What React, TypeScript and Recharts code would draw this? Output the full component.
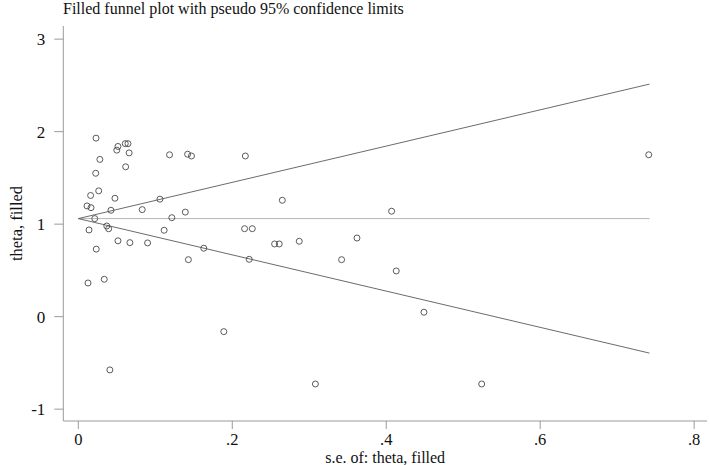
import React from "react";
import { ScatterChart, Scatter, XAxis, YAxis, Label } from "recharts";

// Study-level standard errors and effect estimates
const seValues = [
  0.023, 0.05, 0.0515, 0.061, 0.0645, 0.066, 0.028, 0.0615, 0.0226, 0.1185,
  0.142, 0.147, 0.217, 0.0265, 0.016, 0.0476, 0.106, 0.265, 0.0113, 0.0165,
  0.0424, 0.083, 0.139, 0.407, 0.0213, 0.1215, 0.741, 0.0139, 0.037, 0.0394,
  0.1115, 0.216, 0.226, 0.0515, 0.067, 0.09, 0.255, 0.261, 0.287, 0.362,
  0.0233, 0.163, 0.143, 0.222, 0.342, 0.413, 0.0126, 0.0337, 0.449, 0.189,
  0.041, 0.308, 0.524,
];
const thetaValues = [
  1.93, 1.8, 1.84, 1.87, 1.87, 1.77, 1.7, 1.62, 1.55, 1.75,
  1.756, 1.737, 1.737, 1.36, 1.31, 1.28, 1.27, 1.258, 1.197, 1.178,
  1.15, 1.157, 1.13, 1.14, 1.06, 1.07, 1.75, 0.937, 0.98, 0.95,
  0.934, 0.951, 0.951, 0.82, 0.8, 0.797, 0.786, 0.786, 0.815, 0.85,
  0.73, 0.74, 0.616, 0.62, 0.616, 0.494, 0.364, 0.404, 0.048, -0.162,
  -0.576, -0.728, -0.728,
];

// Pseudo 95% confidence limits and pooled estimate
const limitSe = [0, 0.742];
const upperLimit = [1.06, 2.514];
const lowerLimit = [1.06, -0.394];
const pooledTheta = [1.06, 1.06];

const xTicks = [0, 0.2, 0.4, 0.6, 0.8];
const yTicks = [-1, 0, 1, 2, 3];

const studies = seValues.map((se, i) => ({ se, theta: thetaValues[i] }));
const upperData = limitSe.map((se, i) => ({ se, theta: upperLimit[i] }));
const lowerData = limitSe.map((se, i) => ({ se, theta: lowerLimit[i] }));
const pooledData = limitSe.map((se, i) => ({ se, theta: pooledTheta[i] }));

const FONT = "'Liberation Serif', 'Times New Roman', serif";
const AXIS = "#9a9a9a";
const TEXT = "#111";

const fmtX = (v: number) => (v === 0 ? "0" : String(v).replace(/^0/, ""));

const Hollow = (props: any) => {
  const { cx, cy } = props;
  if (cx == null || cy == null) return <g />;
  return <circle cx={cx} cy={cy} r={3} fill="none" stroke="#4a4a4a" strokeWidth={0.9} />;
};
const NoShape = () => <g />;

export default function App() {
  return (
    <div style={{ position: "absolute", left: 0, top: 0, width: 710, height: 465, background: "#fff" }}>
      <div
        style={{
          position: "absolute",
          left: 63,
          top: 1,
          fontFamily: FONT,
          fontSize: 16,
          lineHeight: 1,
          color: TEXT,
          whiteSpace: "nowrap",
        }}
      >
        Filled funnel plot with pseudo 95% confidence limits
      </div>
      <ScatterChart width={710} height={465} margin={{ top: 26, right: 3, bottom: 0, left: 0 }}>
        <XAxis
          type="number"
          dataKey="se"
          domain={[-0.0195, 0.8167]}
          ticks={xTicks}
          tickFormatter={fmtX}
          allowDataOverflow
          height={44}
          tickSize={8}
          tickMargin={4}
          axisLine={{ stroke: AXIS }}
          tickLine={{ stroke: AXIS }}
          tick={{ fill: TEXT, fontSize: 16.5, fontFamily: FONT }}
        >
          <Label
            value="s.e. of: theta, filled"
            position="insideBottom"
            offset={2}
            style={{ fill: TEXT, fontSize: 16, fontFamily: FONT }}
          />
        </XAxis>
        <YAxis
          type="number"
          dataKey="theta"
          domain={[-1.128, 3.142]}
          ticks={yTicks}
          allowDataOverflow
          width={63.3}
          tickSize={9}
          tickMargin={9}
          axisLine={{ stroke: AXIS }}
          tickLine={{ stroke: AXIS }}
          tick={{ fill: TEXT, fontSize: 17, fontFamily: FONT }}
        >
          <Label
            content={(p: any) => {
              const vb = p.viewBox || { x: 0, y: 26, width: 63, height: 395 };
              const cx = vb.x + 16;
              const cy = vb.y + vb.height / 2;
              return (
                <text
                  x={cx}
                  y={cy}
                  transform={`rotate(-90 ${cx} ${cy})`}
                  textAnchor="middle"
                  dominantBaseline="central"
                  style={{ fill: TEXT, fontSize: 16.5, fontFamily: FONT }}
                >
                  theta, filled
                </text>
              );
            }}
          />
        </YAxis>
        <Scatter
          data={pooledData}
          line={{ stroke: "#b4b4b4", strokeWidth: 1 }}
          shape={NoShape}
          isAnimationActive={false}
        />
        <Scatter
          data={upperData}
          line={{ stroke: "#5a5a5a", strokeWidth: 0.9 }}
          shape={NoShape}
          isAnimationActive={false}
        />
        <Scatter
          data={lowerData}
          line={{ stroke: "#5a5a5a", strokeWidth: 0.9 }}
          shape={NoShape}
          isAnimationActive={false}
        />
        <Scatter data={studies} shape={Hollow} isAnimationActive={false} />
      </ScatterChart>
    </div>
  );
}
